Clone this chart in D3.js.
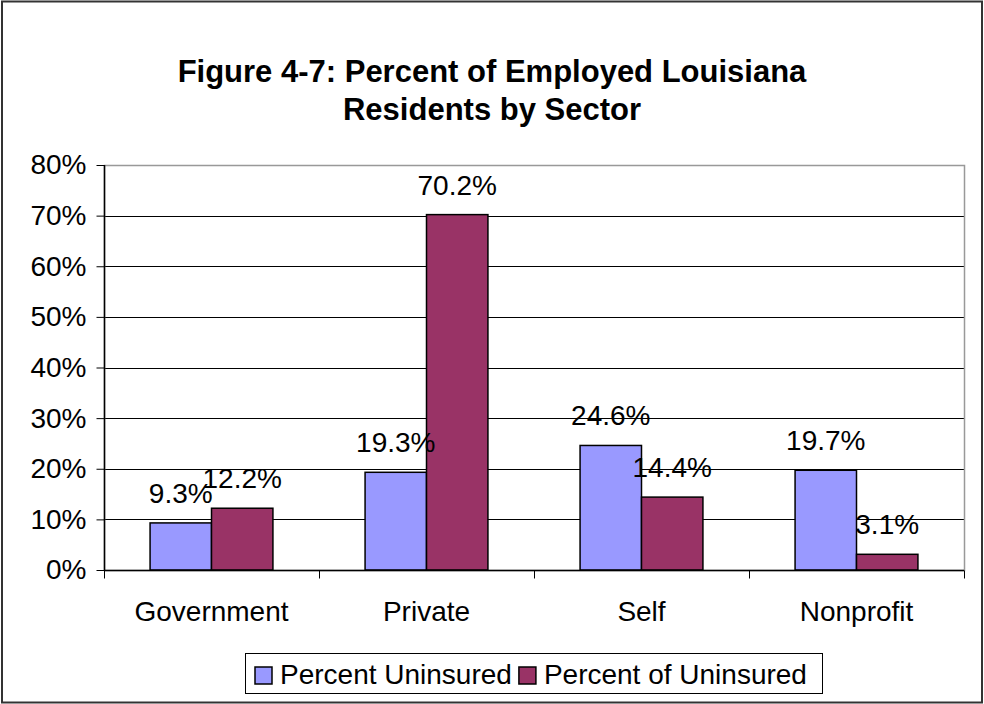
<!DOCTYPE html>
<html><head><meta charset="utf-8">
<script src="https://cdn.jsdelivr.net/npm/d3@7"></script>
<style>body{margin:0;background:#fff}svg{display:block}text{font-family:"Liberation Sans",Arial,sans-serif}</style>
</head><body>
<svg id="chart" width="984" height="704"></svg>
<script>
const categories = ["Government", "Private", "Self", "Nonprofit"];
const seriesNames = ["Percent Uninsured", "Percent of Uninsured"];
const percentUninsured = [9.3, 19.3, 24.6, 19.7];
const percentOfUninsured = [12.2, 70.2, 14.4, 3.1];
const yTicks = [0, 10, 20, 30, 40, 50, 60, 70, 80];
const colors = ["#9999FF", "#993366"];
const titleLines = ["Figure 4-7: Percent of Employed Louisiana", "Residents by Sector"];

const svg = d3.select("#chart");
const W = 984, H = 704;
const m = {left: 104, right: 964, top: 165, bottom: 570};
const FS = 28;

svg.append("rect").attr("x", 2).attr("y", 1.5).attr("width", W - 4).attr("height", H - 3)
  .attr("fill", "#fff").attr("stroke", "#333").attr("stroke-width", 2);

const t = svg.append("text").attr("text-anchor", "middle").attr("font-weight", "bold").attr("font-size", 31);
titleLines.forEach((l, i) => t.append("tspan").attr("x", 492).attr("y", 82 + i * 38).text(l));

const x = d3.scaleBand().domain(categories).range([m.left, m.right]).paddingInner(0).paddingOuter(0);
const x1 = d3.scaleBand().domain([0, 1]).range([0, x.bandwidth()]).paddingInner(0).paddingOuter(0.75);
const y = d3.scaleLinear().domain([0, 80]).range([m.bottom, m.top]);

// gridlines
svg.append("g").selectAll("line").data(yTicks.slice(1)).join("line")
  .attr("x1", m.left).attr("x2", m.right)
  .attr("y1", d => Math.round(y(d)) + 0.5).attr("y2", d => Math.round(y(d)) + 0.5)
  .attr("stroke", "#000").attr("stroke-width", 1);

// plot border
svg.append("rect").attr("x", m.left + 0.5).attr("y", m.top + 0.5)
  .attr("width", m.right - m.left).attr("height", m.bottom - m.top)
  .attr("fill", "none").attr("stroke", "#999").attr("stroke-width", 1.5);

// bars
const data = categories.map((c, i) => ({c, v: [percentUninsured[i], percentOfUninsured[i]]}));
const g = svg.append("g").selectAll("g").data(data).join("g")
  .attr("transform", d => `translate(${x(d.c)},0)`);
g.selectAll("rect").data(d => d.v.map((v, k) => ({v, k}))).join("rect")
  .attr("x", d => x1(d.k)).attr("width", x1.bandwidth())
  .attr("y", d => y(d.v)).attr("height", d => y(0) - y(d.v))
  .attr("fill", d => colors[d.k]).attr("stroke", "#000").attr("stroke-width", 1.5);
g.selectAll("text").data(d => d.v.map((v, k) => ({v, k}))).join("text")
  .attr("x", d => x1(d.k) + x1.bandwidth() / 2).attr("y", d => y(d.v) - 20)
  .attr("text-anchor", "middle").attr("font-size", FS).attr("fill", "#000")
  .text(d => d.v.toFixed(1) + "%");

// y axis
const ya = svg.append("g").attr("transform", `translate(${m.left + 0.5},0)`)
  .call(d3.axisLeft(y).tickValues(yTicks).tickFormat(d => d + "%").tickSize(8).tickPadding(10));
ya.select(".domain").attr("stroke", "#000").attr("stroke-width", 1.5).attr("d", `M0,${m.top}V${m.bottom}`);
ya.selectAll(".tick line").attr("stroke", "#000");
ya.selectAll(".tick text").attr("font-size", FS).attr("font-family", "Liberation Sans, Arial, sans-serif").attr("fill", "#000");

// x axis
const xa = svg.append("g").attr("transform", `translate(0,${m.bottom + 0.5})`);
xa.append("line").attr("x1", m.left).attr("x2", m.right).attr("stroke", "#000").attr("stroke-width", 1.5);
xa.selectAll(".tk").data(categories.map(c => x(c)).concat([m.right])).join("line")
  .attr("x1", d => d + 0.5).attr("x2", d => d + 0.5).attr("y1", 0).attr("y2", 8).attr("stroke", "#000");
xa.selectAll("text").data(categories).join("text")
  .attr("x", d => x(d) + x.bandwidth() / 2).attr("y", 50)
  .attr("text-anchor", "middle").attr("font-size", FS).text(d => d);

// legend
const lg = svg.append("g");
lg.append("rect").attr("x", 245.5).attr("y", 653.5).attr("width", 577).attr("height", 40)
  .attr("fill", "#fff").attr("stroke", "#000").attr("stroke-width", 1);
let cx = 255;
seriesNames.forEach((s, i) => {
  lg.append("rect").attr("x", cx).attr("y", 667).attr("width", 17).attr("height", 17)
    .attr("fill", colors[i]).attr("stroke", "#000").attr("stroke-width", 1.5);
  const tx = lg.append("text").attr("x", cx + 25).attr("y", 684).attr("font-size", FS).text(s);
  cx = cx + 25 + tx.node().getComputedTextLength() + 7;
});
</script>
</body></html>
